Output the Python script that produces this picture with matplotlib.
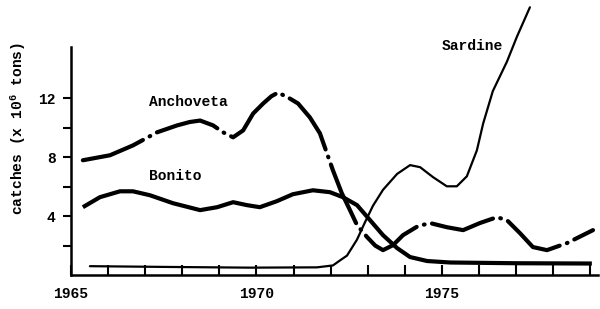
import matplotlib
matplotlib.use("Agg")
import matplotlib.pyplot as plt

plt.rcParams['font.family'] = ['Liberation Mono', 'DejaVu Sans Mono']
plt.rcParams['font.weight'] = 'bold'
plt.rcParams['mathtext.fontset'] = 'custom'
plt.rcParams['mathtext.rm'] = 'Liberation Mono:bold'
plt.rcParams['mathtext.default'] = 'rm'
plt.rcParams['lines.scale_dashes'] = False

# ---- data ----
anch_year = [1965.32, 1966.05, 1966.67, 1967.32, 1967.86, 1968.2, 1968.48, 1968.83, 1969.10,
             1969.37, 1969.64, 1969.91, 1970.18, 1970.40, 1970.58, 1970.85, 1971.12, 1971.44,
             1971.71, 1972.06, 1972.30, 1972.52, 1972.71, 1972.98, 1973.20, 1973.41, 1973.68,
             1973.95, 1974.35, 1974.68, 1975.13, 1975.57, 1976.02, 1976.48, 1976.75,
             1977.10, 1977.45, 1977.83, 1978.37, 1979.07]
anch_val = [7.8, 8.14, 8.81, 9.7, 10.17, 10.4, 10.5, 10.17, 9.7,
            9.36, 9.83, 10.98, 11.66, 12.15, 12.4, 12.07, 11.66, 10.71,
            9.63, 7.12, 5.56, 4.41, 3.39, 2.58, 2.0, 1.69, 2.03,
            2.71, 3.32, 3.53, 3.25, 3.05, 3.53, 3.93, 3.73,
            2.85, 1.9, 1.69, 2.17, 3.05]

bon_year = [1965.32, 1965.78, 1966.32, 1966.67, 1967.13, 1967.75, 1968.48, 1968.94,
            1969.37, 1969.74, 1970.09, 1970.55, 1970.98, 1971.52, 1971.98, 1972.33,
            1972.71, 1973.06, 1973.41, 1973.79, 1974.14, 1974.60, 1975.22, 1977.0, 1979.04]
bon_val = [4.61, 5.29, 5.69, 5.69, 5.42, 4.88, 4.41, 4.61,
           4.95, 4.75, 4.61, 5.02, 5.49, 5.76, 5.63, 5.29,
           4.75, 3.73, 2.71, 1.83, 1.22, 0.95, 0.85, 0.8, 0.78]

sard_year = [1965.51, 1967.5, 1969.82, 1971.63, 1972.06, 1972.25, 1972.44, 1972.71,
             1972.92, 1973.14, 1973.41, 1973.79, 1974.14, 1974.41, 1974.76, 1975.13,
             1975.40, 1975.67, 1975.94, 1976.11, 1976.37, 1976.75, 1977.02, 1977.37]
sard_val = [0.6, 0.55, 0.5, 0.52, 0.65, 0.99, 1.32, 2.41,
            3.56, 4.71, 5.79, 6.87, 7.47, 7.33, 6.65, 6.03,
            6.03, 6.71, 8.47, 10.3, 12.5, 14.5, 16.2, 18.2]

year_ticks = list(range(1965, 1980))
year_labels = ['1965' if y == 1965 else '1970' if y == 1970 else '1975' if y == 1975 else ''
               for y in year_ticks]
val_ticks = [2, 4, 6, 8, 10, 12]
val_labels = ['', '4', '', '8', '', '12']

# ---- figure ----
fig = plt.figure(figsize=(6.0, 3.09), dpi=100)
ax = fig.add_axes([71 / 600, 34 / 309, 0.878, 228 / 309])

ax.plot(sard_year, sard_val, color='black', lw=1.6, clip_on=False,
        solid_capstyle='round', solid_joinstyle='round')
ax.plot(bon_year, bon_val, color='black', lw=3.0,
        solid_capstyle='butt', solid_joinstyle='round')
ln, = ax.plot(anch_year, anch_val, color='black', lw=3.0,
              dash_capstyle='round', dash_joinstyle='round')
ln.set_dashes((46, 5.5, 0.5, 5.5))

ax.set_xlim(1965, 1979.2)
ax.set_ylim(0, 15.5)

for s in ['top', 'right']:
    ax.spines[s].set_visible(False)
for s in ['left', 'bottom']:
    ax.spines[s].set_linewidth(1.8)

ax.set_xticks(year_ticks)
ax.set_xticklabels(year_labels, fontsize=10.5)
ax.tick_params(axis='x', direction='in', length=7, width=1.5, pad=9)
ax.set_yticks(val_ticks)
ax.set_yticklabels(val_labels, fontsize=10.5)
ax.tick_params(axis='y', direction='out', length=6, width=1.5, pad=5)

ax.text(1967.1, 11.75, 'Anchoveta', fontsize=10.5, ha='left', va='center')
ax.text(1967.1, 6.7, 'Bonito', fontsize=10.5, ha='left', va='center')
ax.text(1975.0, 15.6, 'Sardine', fontsize=10.5, ha='left', va='center', clip_on=False)

fig.text(18 / 600, 1 - 128 / 309, 'catches (x 10$^{6}$ tons)', rotation=90,
         ha='center', va='center', fontsize=10.5)

fig.savefig('out.png', dpi=100)
